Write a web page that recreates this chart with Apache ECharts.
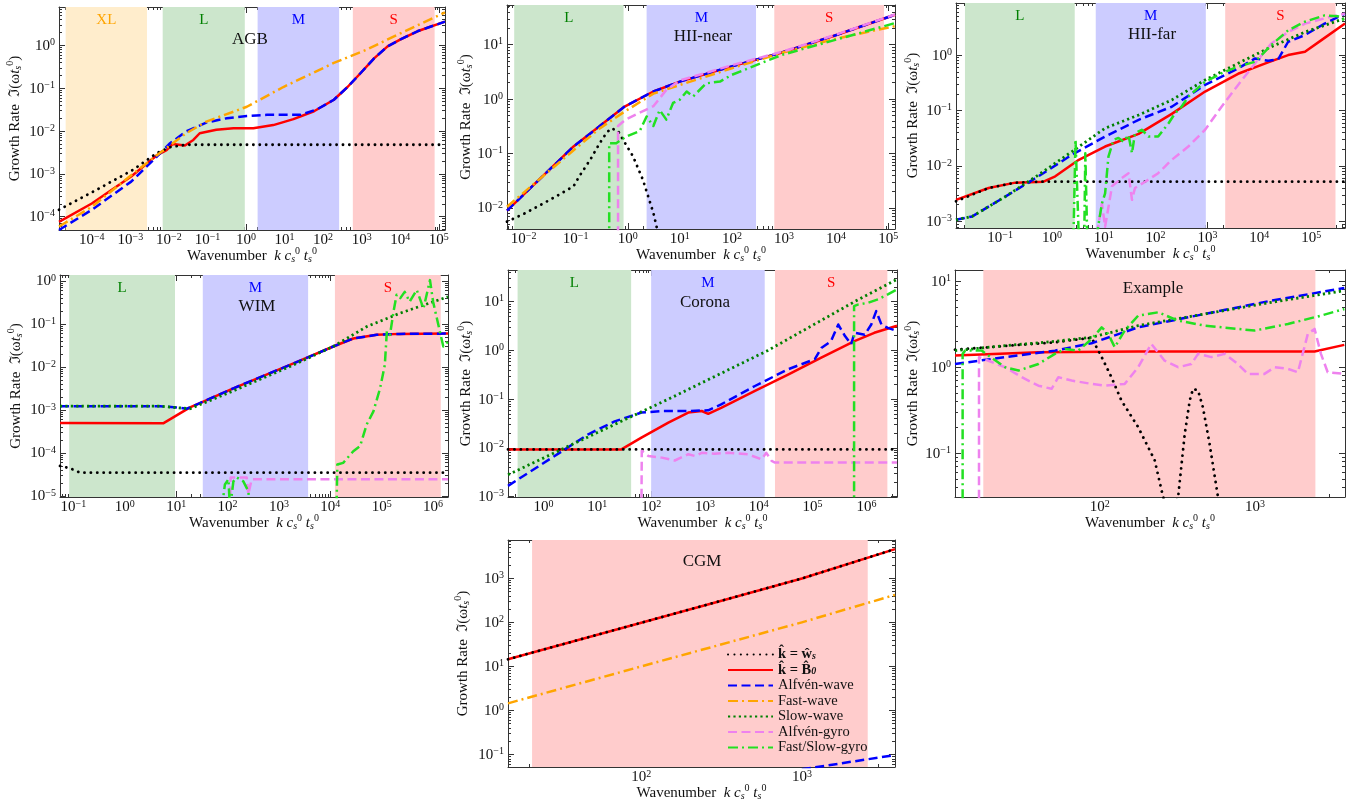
<!DOCTYPE html>
<html><head><meta charset="utf-8">
<script src="https://cdn.jsdelivr.net/npm/echarts@6/dist/echarts.min.js"></script>
<style>html,body{margin:0;padding:0;background:#fff}#c{width:1364px;height:809px}</style>
</head><body><div id="c"></div>
<script>
// ---------------- DATA (raw values: wavenumber k, growth rate) ----------------
const SERIES_NAMES = ['k\u0302 = w\u0302s', 'k\u0302 = B\u03020', 'Alfvén-wave', 'Fast-wave', 'Slow-wave', 'Alfvén-gyro', 'Fast/Slow-gyro'];
const PANEL_TITLES = ['AGB', 'HII-near', 'HII-far', 'WIM', 'Corona', 'Example', 'CGM'];

// AGB
const AGB_x = [1.41e-5, 1.45e5];
const AGB_y = [4.9e-5, 7.9];
const AGB_regions = [['XL', 2.1e-5, 2.7e-3], ['L', 6.9e-3, 0.93], ['M', 2.0, 2.6e2], ['S', 5.9e2, 7.8e4]];
const AGB_ws = [[1.41e-5,1.45e-4],[1e-4,3.7e-4],[1.15e-3,1.23e-3],[4.7e-3,3.0e-3],[1.05e-2,4.2e-3],[2.8e-2,4.8e-3],[1.45e5,4.8e-3]];
const AGB_B0 = [[1.41e-5,7.6e-5],[1e-4,2.04e-4],[1.05e-3,8.7e-4],[4.8e-3,2.7e-3],[8.7e-3,3.6e-3],[1.26e-2,5.0e-3],[2.6e-2,4.6e-3],[4.3e-2,6.2e-3],[6.3e-2,8.9e-3],[0.17,1.07e-2],[0.47,1.17e-2],[1.55,1.17e-2],[5.1,1.38e-2],[17,1.9e-2],[58,2.9e-2],[190,5.4e-2],[430,0.107],[930,0.224],[2.1e3,0.50],[4.7e3,0.95],[1.05e4,1.41],[2.8e4,2.14],[1.45e5,3.6]];
const AGB_alf = [[1.41e-5,4.9e-5],[1e-4,1.45e-4],[1.05e-3,6.6e-4],[4.8e-3,2.5e-3],[1.07e-2,5.2e-3],[2.8e-2,9.8e-3],[9.3e-2,1.58e-2],[0.32,2.0e-2],[1.05,2.26e-2],[3.5,2.4e-2],[26,2.4e-2],[69,3.2e-2],[190,5.4e-2],[430,0.107],[930,0.224],[2.1e3,0.50],[4.7e3,0.95],[1.05e4,1.41],[2.8e4,2.14],[1.45e5,3.6]];
const AGB_fast = [[1.41e-5,5.9e-5],[1e-4,1.7e-4],[1.05e-3,9.3e-4],[4.8e-3,2.7e-3],[1.26e-2,5.2e-3],[2.8e-2,8.9e-3],[9.3e-2,1.66e-2],[1.05,3.7e-2],[9.3,0.107],[190,0.39],[1.4e3,0.81],[1.05e4,1.95],[1.45e5,5.9]];

// HII-near
const HIIn_x = [4.8e-3, 1.35e5];
const HIIn_y = [4.1e-3, 53.7];
const HIIn_regions = [['L', 6.6e-3, 0.83], ['M', 2.3, 290], ['S', 650, 8.3e4]];
const HIIn_ws = [[4.8e-3,5.6e-3],[0.011,8.1e-3],[0.036,0.015],[0.091,0.025],[0.117,0.038],[0.19,0.077],[0.29,0.155],[0.39,0.24],[0.48,0.29],[0.65,0.26],[0.81,0.18],[1.26,0.089],[1.95,0.033],[3.1,8.1e-3],[3.8,3.5e-3]];
const HIIn_B0 = [[4.8e-3,8.9e-3],[0.091,0.135],[0.29,0.32],[0.87,0.73],[3.1,1.38],[10,2.1],[100,4.0],[910,7.2],[8.9e3,14.5],[1.35e5,35.5]];
const HIIn_alf = [[4.8e-3,8.9e-3],[0.091,0.135],[0.29,0.32],[0.87,0.73],[3.1,1.38],[10,2.1],[100,4.0],[910,7.2],[8.9e3,14.5],[1.35e5,35.5]];
const HIIn_fast = [[4.8e-3,1.05e-2],[0.091,0.115],[0.29,0.29],[0.87,0.59],[3.1,1.26],[10,1.82],[100,3.7],[910,7.1],[8.9e3,12.6],[1.35e5,22]];
const HIIn_agyro = [[0.65,1e-3],[0.65,0.32],[0.9,0.42],[3.1,0.74],[5.5,1.48],[10,2.2],[100,4.2],[910,7.4],[8.9e3,14.8],[1.35e5,36]];
const HIIn_fgyro = [[0.44,1e-3],[0.44,0.155],[0.60,0.155],[0.93,0.205],[1.7,0.26],[2.3,0.48],[3.1,0.32],[4.1,0.63],[5.5,0.42],[7.4,0.85],[10,0.98],[13.5,1.38],[18,1.12],[32,1.95],[59,2.1],[100,2.8],[910,6.5],[8.9e3,12],[1.35e5,25]];

// HII-far
const HIIf_x = [1.41e-2, 4.5e5];
const HIIf_y = [7.6e-4, 8.7];
const HIIf_regions = [['L', 0.021, 2.75], ['M', 7.0, 930], ['S', 2.2e3, 2.95e5]];
const HIIf_ws = [[1.41e-2,2.3e-3],[0.060,4.0e-3],[0.196,5.0e-3],[0.55,5.2e-3],[4.5e5,5.2e-3]];
const HIIf_B0 = [[1.41e-2,2.45e-3],[0.060,4.0e-3],[0.196,5.0e-3],[0.69,5.2e-3],[1.16,6.5e-3],[3.3,1.29e-2],[10.6,2.24e-2],[47,3.8e-2],[205,8.7e-2],[900,0.22],[3.9e3,0.46],[1.48e4,0.74],[3.6e4,1.0],[7.6e4,1.15],[1.58e5,1.86],[4.5e5,3.7]];
const HIIf_alf = [[1.41e-2,1.07e-3],[0.029,1.23e-3],[0.126,2.8e-3],[0.55,6.5e-3],[2.4,1.58e-2],[10.6,3.4e-2],[47,6.8e-2],[205,0.117],[900,0.29],[3.9e3,0.575],[8.3e3,0.87],[1.48e4,0.79],[2.3e4,0.83],[3.6e4,1.74],[7.6e4,2.3],[1.82e5,3.7],[4.5e5,5.6]];
const HIIf_slow = [[1.41e-2,1.07e-3],[0.029,1.23e-3],[0.126,2.8e-3],[0.55,6.9e-3],[2.4,1.8e-2],[10.6,4.8e-2],[47,8.3e-2],[205,0.155],[900,0.355],[3.9e3,0.71],[1.7e4,1.41],[7.6e4,2.6],[4.5e5,4.6]];
const HIIf_agyro = [[7.4,6e-4],[9.2,2.1e-3],[10.6,8e-4],[14.4,4.3e-3],[22,6.0e-3],[30,7.4e-3],[35,2.45e-3],[40,4.0e-3],[63,5.2e-3],[112,7.4e-3],[205,1.29e-2],[427,2.24e-2],[900,4.5e-2],[1.87e3,0.117],[3.9e3,0.29],[8.3e3,0.71],[1.7e4,1.62],[3.6e4,2.6],[7.6e4,3.7],[1.82e5,4.6],[4.5e5,5.6]];
const HIIf_fgyro = [[2.6,5e-4],[2.85,0.03],[3.3,5e-4],[4.2,5e-4],[4.4,0.017],[4.8,5e-4],[7.4,6e-4],[9.2,2.1e-3],[10.6,3.2e-3],[12.3,1.48e-2],[15.4,2.95e-2],[19.2,3.2e-2],[24,2.75e-2],[30,3.6e-2],[35,1.7e-2],[40,3.9e-2],[54,4.5e-2],[73,3.4e-2],[112,3.4e-2],[178,5.9e-2],[236,8.9e-2],[316,0.117],[427,0.178],[900,0.33],[1.87e3,0.47],[3.9e3,0.62],[8.3e3,0.76],[1.7e4,1.51],[3.6e4,2.8],[7.6e4,4.0],[1.82e5,5.2],[3.3e5,5.0],[4.5e5,4.2]];

// WIM
const WIM_x = [0.055, 1.95e6];
const WIM_y = [9.5e-6, 1.38];
const WIM_regions = [['L', 0.083, 9.5], ['M', 33, 3.7e3], ['S', 1.23e4, 1.41e6]];
const WIM_ws = [[0.055,5.0e-5],[0.087,4.4e-5],[0.135,3.5e-5],[1.95e6,3.5e-5]];
const WIM_B0 = [[0.055,5.0e-4],[5.6,4.9e-4],[18.6,1.15e-3],[29,1.45e-3],[130,3.2e-3],[1640,1.12e-2],[1.14e4,3.0e-2],[2.8e4,4.6e-2],[8.0e4,5.6e-2],[2.26e5,5.9e-2],[1.95e6,6.0e-2]];
const WIM_alf = [[0.055,1.23e-3],[4.85,1.23e-3],[10.2,1.15e-3],[16,1.07e-3],[29,1.45e-3],[130,3.2e-3],[1640,1.12e-2],[1.14e4,3.0e-2],[2.8e4,4.6e-2],[8.0e4,5.6e-2],[2.26e5,5.9e-2],[1.95e6,6.0e-2]];
const WIM_slow = [[0.055,1.23e-3],[4.85,1.23e-3],[18.6,1.07e-3],[130,2.8e-3],[1640,1.03e-2],[1.14e4,3.0e-2],[5.1e4,8.7e-2],[2.26e5,0.178],[1.95e6,0.43]];
const WIM_agyro = [[112,5e-6],[115,2.7e-5],[236,2.7e-5],[254,1.1e-5],[295,2.45e-5],[1.95e6,2.45e-5]];
const WIM_fgyro = [[77,5e-6],[89,1.86e-5],[104,2.45e-5],[112,5e-6],[130,2.2e-5],[151,2.7e-5],[203,2.2e-5],[254,1.3e-5],[274,5e-6],[1.32e4,5e-6],[1.37e4,5.4e-5],[1.78e4,5.9e-5],[2.8e4,1.1e-4],[3.8e4,1.45e-4],[5.1e4,4.6e-4],[6.9e4,9.3e-4],[9.3e4,3.2e-3],[1.15e5,1.12e-2],[1.26e5,6.8e-2],[1.45e5,5.6e-2],[1.7e5,0.195],[1.95e5,0.48],[2.3e5,0.40],[2.8e5,0.56],[3.5e5,0.33],[4.8e5,0.62],[6.5e5,0.23],[8.7e5,1.05],[1.0e6,0.33],[1.35e6,6.8e-2],[1.58e6,3.0e-2],[1.95e6,3.9e-2]];

// Corona
const COR_x = [0.219, 3.7e6];
const COR_y = [9.8e-4, 44.7];
const COR_regions = [['L', 0.33, 42.5], ['M', 100, 1.29e4], ['S', 2.0e4, 2.45e6]];
const COR_ws = [[0.219,9.3e-3],[3.7e6,9.3e-3]];
const COR_B0 = [[0.219,9.3e-3],[28,9.3e-3],[66,1.62e-2],[209,3.3e-2],[490,5.3e-2],[870,5.7e-2],[1.15e3,5.0e-2],[2.0e3,6.6e-2],[8.5e3,0.148],[3.5e4,0.32],[1.45e5,0.71],[6.0e5,1.55],[1.4e6,2.3],[3.7e6,3.2]];
const COR_alf = [[0.219,1.66e-3],[2.5,9.3e-3],[6.8,1.9e-2],[21,3.5e-2],[66,5.3e-2],[158,5.7e-2],[490,5.7e-2],[1.15e3,5.9e-2],[2.0e3,7.8e-2],[8.5e3,0.186],[3.5e4,0.41],[1.1e5,0.66],[1.45e5,1.12],[2.2e5,1.55],[3.0e5,3.4],[4.0e5,1.97],[5.2e5,1.33],[6.0e5,2.3],[9.3e5,2.1],[1.23e6,3.4],[1.52e6,6.4],[1.9e6,3.4],[2.5e6,2.9],[3.7e6,2.5]];
const COR_slow = [[0.219,2.8e-3],[2.5,1e-2],[209,0.1],[1.48e4,1.0],[6.0e5,10],[3.7e6,28.8]];
const COR_agyro = [[66,5e-4],[67,8.7e-3],[89,6.8e-3],[158,6.3e-3],[275,5.5e-3],[490,7.4e-3],[650,6.8e-3],[870,7.9e-3],[1.5e3,7.6e-3],[2.7e3,7.9e-3],[6.3e3,7.4e-3],[1.12e4,5.8e-3],[1.38e4,7.9e-3],[1.73e4,5.4e-3],[2.0e4,5.0e-3],[3.7e6,5.0e-3]];
const COR_fgyro = [[5.9e5,5e-4],[5.9e5,8.1],[6.9e5,8.7],[1.07e6,9.5],[1.65e6,11.2],[2.5e6,14.1],[3.7e6,17.8]];

// Example
const EX_x = [11.7, 3800];
const EX_y = [0.031, 13.5];
const EX_regions = [['S', 17.8, 2450]];
const EX_ws = [[11.7,1.6],[51.5,1.95],[88.7,2.2],[103,1.31],[119,0.766],[138,0.41],[177,0.201],[226,0.083],[256,0.031],[290,0.02],[320,0.031],[353,0.168],[380,0.41],[399,0.561],[430,0.536],[462,0.343],[510,0.129],[578,0.031],[620,0.02]];
const EX_B0 = [[11.7,1.37],[40.3,1.49],[177,1.52],[2420,1.52],[3760,1.82]];
const EX_alf = [[11.7,1.09],[24.6,1.31],[51.5,1.56],[88.7,1.9],[177,2.91],[474,4.16],[1270,5.94],[3760,8.33]];
const EX_slow = [[11.7,1.56],[24.6,1.78],[51.5,2.0],[88.7,2.23],[177,3.05],[474,4.16],[1270,5.68],[3760,7.76]];
const EX_agyro = [[16.7,0.01],[16.7,1.31],[19.2,1.19],[24.6,1.0],[31.5,0.766],[40.3,0.61],[49,0.561],[54.2,0.766],[66,0.70],[88.7,0.64],[108,0.61],[145,0.64],[177,1.0],[215,1.87],[262,1.19],[320,1.0],[389,1.09],[430,1.43],[524,1.31],[637,1.43],[776,1.09],[900,0.837],[1150,0.837],[1340,1.0],[1630,0.957],[1890,0.875],[2190,2.44],[2420,2.79],[2660,1.43],[2940,0.875],[3760,0.837]];
const EX_fgyro = [[13.1,0.01],[13.1,1.43],[13.6,1.56],[17.4,1.56],[19.2,1.37],[24.6,1.0],[30,0.915],[40.3,1.09],[51.5,1.43],[59.8,1.63],[72.8,1.56],[88.7,2.13],[103,2.91],[113.5,2.44],[125,1.71],[145,2.67],[177,3.98],[238,4.35],[320,3.48],[474,3.05],[776,2.79],[993,2.67],[1630,3.18],[2660,3.98],[3760,4.75]];

// CGM
const CGM_x = [14.8, 3800];
const CGM_y = [0.052, 7400];
const CGM_regions = [['S', 20.9, 2570]];
const CGM_ws = [[14.8,14.5],[31.6,31],[100,98],[316,310],[1000,990],[3800,4600]];
const CGM_B0 = [[14.8,14.5],[31.6,31],[100,98],[316,310],[1000,990],[3800,4600]];
const CGM_fast = [[14.8,1.45],[100,10],[1000,100],[3800,420]];
const CGM_alf = [[1000,0.046],[3800,0.097]];

// ---------------- assembly ----------------
const PANELS = [
  {x: AGB_x, y: AGB_y, regions: AGB_regions, curves: {B0: AGB_B0, ws: AGB_ws, alf: AGB_alf, fast: AGB_fast}},
  {x: HIIn_x, y: HIIn_y, regions: HIIn_regions, curves: {B0: HIIn_B0, ws: HIIn_ws, alf: HIIn_alf, fast: HIIn_fast, agyro: HIIn_agyro, fgyro: HIIn_fgyro}},
  {x: HIIf_x, y: HIIf_y, regions: HIIf_regions, curves: {B0: HIIf_B0, ws: HIIf_ws, alf: HIIf_alf, slow: HIIf_slow, agyro: HIIf_agyro, fgyro: HIIf_fgyro}},
  {x: WIM_x, y: WIM_y, regions: WIM_regions, curves: {B0: WIM_B0, ws: WIM_ws, alf: WIM_alf, slow: WIM_slow, agyro: WIM_agyro, fgyro: WIM_fgyro}},
  {x: COR_x, y: COR_y, regions: COR_regions, curves: {B0: COR_B0, ws: COR_ws, alf: COR_alf, slow: COR_slow, agyro: COR_agyro, fgyro: COR_fgyro}},
  {x: EX_x, y: EX_y, regions: EX_regions, curves: {B0: EX_B0, ws: EX_ws, alf: EX_alf, slow: EX_slow, agyro: EX_agyro, fgyro: EX_fgyro}},
  {x: CGM_x, y: CGM_y, regions: CGM_regions, curves: {B0: CGM_B0, ws: CGM_ws, alf: CGM_alf, fast: CGM_fast}}
];

// layout (pixels)
const LAYOUT = [
  {box: [59, 7, 386, 223], yGap: 36, title: [250, 40], regionLabels: true},
  {box: [507, 5, 388, 224], yGap: 33, title: [703, 37], regionLabels: true},
  {box: [956, 3, 389, 225], yGap: 35, title: [1152, 35], regionLabels: true},
  {box: [60, 275, 388, 222], yGap: 36, title: [257, 307], regionLabels: true},
  {box: [508, 270, 389, 227], yGap: 34, title: [705, 303], regionLabels: true},
  {box: [955, 270, 390, 227], yGap: 34, title: [1153, 289], regionLabels: false},
  {box: [508, 540, 387, 227], yGap: 37, title: [702, 562], regionLabels: false}
];

const F = '"Liberation Serif", "DejaVu Serif", serif';
const TXT = '#111';
const FRAME = '#333';
const REGION_FILL = {XL: '#ffedcc', L: '#cce6cc', M: '#ccccff', S: '#ffcccc'};
const REGION_TEXT = {XL: '#ffa500', L: '#008000', M: '#0000ff', S: '#ff0000'};
const STYLE = {
  B0:    {idx: 1, color: '#ff0000', width: 2.5, type: 'solid', cap: 'butt'},
  ws:    {idx: 0, color: '#000000', width: 2.8, type: [0.1, 6.3], cap: 'round'},
  alf:   {idx: 2, color: '#0000ff', width: 2.5, type: [9, 4.5], cap: 'butt'},
  fast:  {idx: 3, color: '#ffa500', width: 2.5, type: [10, 4, 2, 4], cap: 'butt'},
  slow:  {idx: 4, color: '#008000', width: 2.8, type: [2.2, 3.2], cap: 'butt'},
  agyro: {idx: 5, color: '#ee82ee', width: 2.5, type: [9, 4.5], cap: 'butt'},
  fgyro: {idx: 6, color: '#22e022', width: 2.5, type: [10, 4, 2, 4], cap: 'butt'}
};
const DRAW_ORDER = ['B0', 'ws', 'alf', 'fast', 'slow', 'agyro', 'fgyro'];

const lg = Math.log10;
function majors(lo, hi) { const a = []; for (let n = Math.ceil(lo - 1e-9); n <= Math.floor(hi + 1e-9); n++) a.push(n); return a; }
function minors(lo, hi) { const a = []; for (let n = Math.floor(lo) - 1; n <= Math.ceil(hi); n++) for (let m = 2; m <= 9; m++) { const v = n + lg(m); if (v > lo && v < hi) a.push(v); } return a; }
function expFmt(v) { const n = Math.round(v); return '{b|10}{s|' + (n < 0 ? '\u2212' + (-n) : String(n)) + '}'; }
const EXP_RICH = {
  b: {fontSize: 15, fontFamily: F, color: TXT, lineHeight: 16, verticalAlign: 'bottom'},
  s: {fontSize: 10, fontFamily: F, color: TXT, lineHeight: 9, verticalAlign: 'top'}
};
const NAME_RICH = {
  n: {fontSize: 15, fontFamily: F, color: TXT, lineHeight: 18, verticalAlign: 'bottom'},
  i: {fontSize: 15, fontFamily: F, fontStyle: 'italic', color: TXT, lineHeight: 18, verticalAlign: 'bottom'},
  sup: {fontSize: 10, fontFamily: F, color: TXT, lineHeight: 11, verticalAlign: 'top'},
  sub: {fontSize: 10, fontFamily: F, fontStyle: 'italic', color: TXT, lineHeight: 9, verticalAlign: 'bottom'}
};
const XNAME = '{n|Wavenumber  }{i|k c}{sub|s}{sup|0}{i| t}{sub|s}{sup|0}';
const YNAME = '{n|Growth Rate  \u2111(\u03c9}{i|t}{sub|s}{sup|0}{n|)}';
const AX_LINE = {show: true, onZero: false, lineStyle: {color: FRAME, width: 1}};
const NO_LINE = {show: false, onZero: false};
const TICK_STYLE = {color: FRAME, width: 1};

const grid = [], xAxis = [], yAxis = [], series = [], graphic = [];

PANELS.forEach((p, i) => {
  const L = LAYOUT[i];
  grid.push({left: L.box[0], top: L.box[1], width: L.box[2], height: L.box[3], containLabel: false});
  const xl = lg(p.x[0]), xh = lg(p.x[1]), yl = lg(p.y[0]), yh = lg(p.y[1]);
  const xM = majors(xl, xh), xm = minors(xl, xh), yM = majors(yl, yh), ym = minors(yl, yh);
  const base = {gridIndex: i, type: 'value', splitLine: {show: false}, splitArea: {show: false}};
  xAxis.push(Object.assign({}, base, {min: xl, max: xh, position: 'bottom', axisLine: AX_LINE,
    axisTick: {show: true, inside: true, length: 6, customValues: xM, lineStyle: TICK_STYLE},
    axisLabel: {show: true, customValues: xM, formatter: expFmt, rich: EXP_RICH, margin: 2},
    name: XNAME, nameLocation: 'middle', nameGap: 16, nameMoveOverlap: false, nameTextStyle: {rich: NAME_RICH}}));
  xAxis.push(Object.assign({}, base, {min: xl, max: xh, position: 'bottom', axisLine: NO_LINE,
    axisTick: {show: true, inside: true, length: 3, customValues: xm, lineStyle: TICK_STYLE}, axisLabel: {show: false}}));
  xAxis.push(Object.assign({}, base, {min: xl, max: xh, position: 'top', axisLine: AX_LINE,
    axisTick: {show: true, inside: true, length: 6, customValues: xM, lineStyle: TICK_STYLE}, axisLabel: {show: false}}));
  xAxis.push(Object.assign({}, base, {min: xl, max: xh, position: 'top', axisLine: NO_LINE,
    axisTick: {show: true, inside: true, length: 3, customValues: xm, lineStyle: TICK_STYLE}, axisLabel: {show: false}}));
  yAxis.push(Object.assign({}, base, {min: yl, max: yh, position: 'left', axisLine: AX_LINE,
    axisTick: {show: true, inside: true, length: 6, customValues: yM, lineStyle: TICK_STYLE},
    axisLabel: {show: true, customValues: yM, formatter: expFmt, rich: EXP_RICH, margin: 4},
    name: YNAME, nameLocation: 'middle', nameRotate: 90, nameGap: L.yGap, nameMoveOverlap: false, nameTextStyle: {rich: NAME_RICH}}));
  yAxis.push(Object.assign({}, base, {min: yl, max: yh, position: 'left', axisLine: NO_LINE,
    axisTick: {show: true, inside: true, length: 3, customValues: ym, lineStyle: TICK_STYLE}, axisLabel: {show: false}}));
  yAxis.push(Object.assign({}, base, {min: yl, max: yh, position: 'right', axisLine: AX_LINE,
    axisTick: {show: true, inside: true, length: 6, customValues: yM, lineStyle: TICK_STYLE}, axisLabel: {show: false}}));
  yAxis.push(Object.assign({}, base, {min: yl, max: yh, position: 'right', axisLine: NO_LINE,
    axisTick: {show: true, inside: true, length: 3, customValues: ym, lineStyle: TICK_STYLE}, axisLabel: {show: false}}));

  series.push({
    type: 'line', name: '_regions' + i, xAxisIndex: 4 * i, yAxisIndex: 4 * i, data: [], silent: true, z: 1,
    markArea: {
      silent: true,
      label: {show: L.regionLabels, position: 'insideTop', distance: 6, fontSize: 15, fontFamily: F},
      data: p.regions.map(r => [
        {name: r[0], xAxis: lg(r[1]), itemStyle: {color: REGION_FILL[r[0]], opacity: 1}, label: {color: REGION_TEXT[r[0]]}},
        {xAxis: lg(r[2])}
      ])
    }
  });
  DRAW_ORDER.forEach(key => {
    const pts = p.curves[key];
    if (!pts) return;
    const st = STYLE[key];
    series.push({
      type: 'line', name: SERIES_NAMES[st.idx], xAxisIndex: 4 * i, yAxisIndex: 4 * i, z: 3,
      data: pts.map(d => [lg(d[0]), lg(d[1])]),
      symbol: 'none', showSymbol: false, smooth: false, clip: true, silent: true,
      itemStyle: {color: st.color, opacity: 0},
      lineStyle: {color: st.color, width: st.width, type: st.type, cap: st.cap, join: 'round'}
    });
  });
  graphic.push({type: 'text', x: L.title[0], y: L.title[1], silent: true, z: 100, zlevel: 0,
    style: {text: PANEL_TITLES[i], fill: TXT, fontSize: 17, fontFamily: F, align: 'center', verticalAlign: 'middle'}});
});

const option = {
  backgroundColor: '#ffffff',
  animation: false,
  grid, xAxis, yAxis, series, graphic,
  legend: {
    data: SERIES_NAMES, orient: 'vertical', left: 727, top: 647, padding: 0, itemWidth: 45, itemHeight: 13, itemGap: 0.5,
    selectedMode: false, backgroundColor: 'transparent', z: 50,
    itemStyle: {opacity: 0},
    textStyle: {fontSize: 14.5, lineHeight: 13, fontFamily: F, color: TXT,
      rich: {bb: {fontSize: 14.5, lineHeight: 13, fontFamily: F, fontWeight: 'bold', color: TXT}, bs: {fontSize: 10, fontFamily: F, fontWeight: 'bold', fontStyle: 'italic', color: TXT, verticalAlign: 'bottom', lineHeight: 8}}},
    formatter: function (name) {
      if (name === SERIES_NAMES[0]) return '{bb|k\u0302 = w\u0302}{bs|s}';
      if (name === SERIES_NAMES[1]) return '{bb|k\u0302 = B\u0302}{bs|0}';
      return name;
    }
  }
};

const chart = echarts.init(document.getElementById('c'), null, {renderer: 'canvas'});
chart.setOption(option);
</script></body></html>
